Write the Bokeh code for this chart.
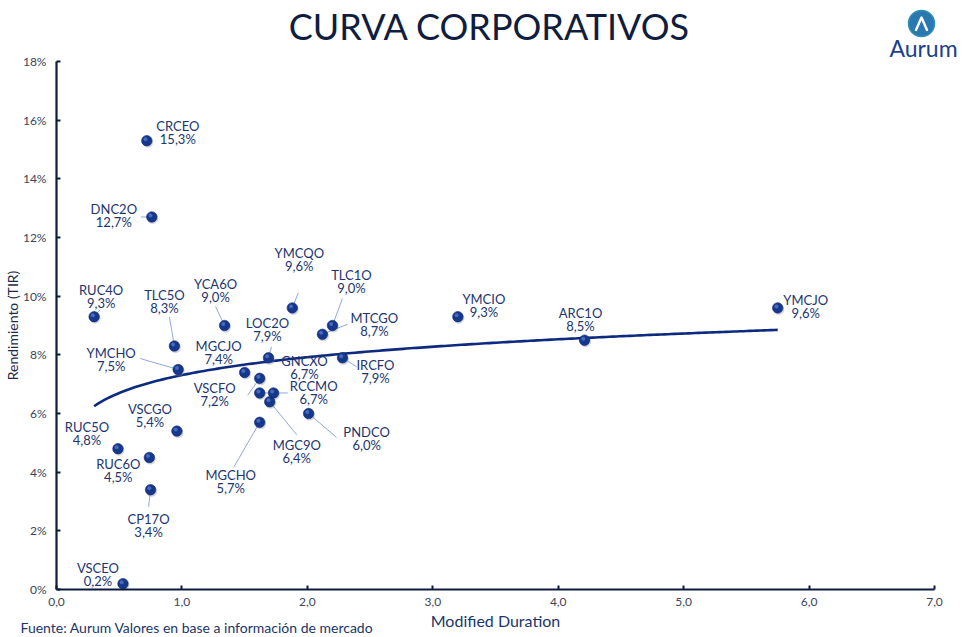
import numpy as np
from bokeh.plotting import figure
from bokeh.models import (ColumnDataSource, FixedTicker, PrintfTickFormatter,
                          CustomJSTickFormatter, Range1d)
from bokeh.transform import dodge
from bokeh.embed import file_html
from bokeh.resources import INLINE
from bokeh.core.properties import value

# --- data: corporate bonds, modified duration vs. yield (TIR, %) ---
tickers = ["CRCEO", "DNC2O", "RUC4O", "TLC5O", "YCA6O", "YMCHO", "YMCQO",
           "TLC1O", "MTCGO", "LOC2O", "MGCJO", "VSCFO", "GNCXO", "RCCMO",
           "MGC9O", "PNDCO", "MGCHO", "IRCFO", "YMCIO", "ARC1O", "YMCJO",
           "VSCGO", "RUC5O", "RUC6O", "CP17O", "VSCEO"]
duration = [0.72, 0.76, 0.30, 0.94, 1.34, 0.97, 1.88,
            2.20, 2.12, 1.69, 1.50, 1.62, 1.73, 1.62,
            1.70, 2.01, 1.62, 2.28, 3.20, 4.21, 5.75,
            0.96, 0.49, 0.74, 0.75, 0.53]
tir = [15.3, 12.7, 9.3, 8.3, 9.0, 7.5, 9.6,
       9.0, 8.7, 7.9, 7.4, 7.2, 6.7, 6.7,
       6.4, 6.0, 5.7, 7.9, 9.3, 8.5, 9.6,
       5.4, 4.8, 4.5, 3.4, 0.2]
x_ticks = [0, 1, 2, 3, 4, 5, 6, 7]
y_ticks = [0, 2, 4, 6, 8, 10, 12, 14, 16, 18]

title_text = "CURVA CORPORATIVOS"
x_title = "Modified Duration"
y_title = "Rendimiento (TIR)"
source_text = "Fuente: Aurum Valores en base a información de mercado"
brand = "Aurum"

# --- label placement (pixel offsets of the name line from each point) ---
label_dx = [31, -38, 7, -10, -9, -67, 7,
            19, 52, -1, -26, -45, 31, 54,
            27, 58, -29, 33, 26, -4, 28,
            -27, -31, -31, -2, -25]
label_dy = [-15, -8, -27, -51, -42, -17, -55,
            -51, -16, -35, -26, 10, -32, -7,
            43, 18, 53, 7, -18, -27, -8,
            -22, -22, 6, 29, -16]
# leader line start (pixels from the point); None = no leader
leaders = [None, (-11, 0), (6, -7), (-5, -29), (-9, -19), (-38, -11), (6, -15),
           (10, -27), (25, -10), (3, -11), None, (-12, 17), None, (28, 0),
           (27, 33), (28, 24), (-26, 45), (14, 9), None, None, None,
           None, None, None, (-2, 17), None]

W, H = 976, 637
PL, PR, PT, PB = 56, 42, 61, 48           # space around the plotting area
X_MAX, Y_MAX = 7, 18
PX_X = (W - PL - PR) / X_MAX
PX_Y = (H - PT - PB) / Y_MAX

NAVY = "#0c1c3c"
LABEL = "#213470"
FONT = "Lato"

# The frame fills the whole page; the axes are pinned at 0 so the
# surrounding margin (titles, logo, note) lives inside the same canvas.
p = figure(width=W, height=H, output_backend="svg", toolbar_location=None,
           x_range=Range1d(-PL / PX_X, X_MAX + PR / PX_X),
           y_range=Range1d(-PB / PX_Y, Y_MAX + PT / PX_Y),
           min_border=0, min_border_left=0, min_border_right=0,
           min_border_top=0, min_border_bottom=0)
p.extra_x_ranges = {"px": Range1d(0, W)}
p.extra_y_ranges = {"py": Range1d(H, 0)}
p.outline_line_color = None
p.xgrid.visible = False
p.ygrid.visible = False

for ax, ticks in ((p.xaxis[0], x_ticks), (p.yaxis[0], y_ticks)):
    ax.fixed_location = 0
    ax.bounds = (ticks[0], ticks[-1])
    ax.ticker = FixedTicker(ticks=ticks)
    ax.axis_line_color = NAVY
    ax.axis_line_width = 2.2
    ax.major_tick_line_color = NAVY
    ax.major_tick_line_width = 2
    ax.major_tick_in = 4
    ax.major_tick_out = 0
    ax.minor_tick_line_color = None
    ax.major_label_text_font = FONT
    ax.major_label_text_font_size = "12px"
    ax.major_label_text_color = "#3a4558"
p.xaxis.major_label_standoff = 8
p.yaxis.major_label_standoff = 10
p.yaxis.formatter = PrintfTickFormatter(format="%d%%")
p.xaxis.formatter = CustomJSTickFormatter(code="return tick.toFixed(1).replace('.', ',');")

# logarithmic trend line fitted to the bonds
lx = np.log(np.array(duration))
b, a = np.polyfit(lx, np.array(tir), 1)
xs = np.linspace(min(duration), max(duration), 200)
p.line(xs, a + b * np.log(xs), line_color="#0d2a7e", line_width=2.6)

# leader lines
x0, y0, x1, y1 = [], [], [], []
for xv, yv, ld in zip(duration, tir, leaders):
    if ld is None:
        continue
    x0.append(xv + ld[0] / PX_X)
    y0.append(yv - ld[1] / PX_Y)
    x1.append(xv)
    y1.append(yv)
p.segment(x0, y0, x1, y1, line_color="#8fa9e0", line_width=1)

src = ColumnDataSource(dict(
    x=duration, y=tir, name=tickers,
    val=[f"{v:.1f}%".replace(".", ",") for v in tir],
    dx=label_dx, dy=label_dy, dy2=[d + 13 for d in label_dy],
))

# points: soft shadow, body, highlight (pixel shifts expressed in data units)
p.scatter(dodge("x", 1 / PX_X), dodge("y", -1.5 / PX_Y), source=src, size=11,
          fill_color="#7f8796", fill_alpha=0.35, line_color=None)
p.scatter("x", "y", source=src, size=10.5, fill_color="#15378c", line_color="#0f2a6e",
          line_width=0.6)
p.scatter(dodge("x", -1.3 / PX_X), dodge("y", 1.5 / PX_Y), source=src, size=4,
          fill_color="#5f80cf", fill_alpha=0.7, line_color=None)

common = dict(text_align="center", text_baseline="middle", text_font=value(FONT),
              text_font_size="13px", text_color=LABEL)
p.text("x", "y", text="name", x_offset="dx", y_offset="dy", source=src, **common)
p.text("x", "y", text="val", x_offset="dx", y_offset="dy2", source=src, **common)

# --- page decoration, placed in page pixels ---
pg = dict(x_range_name="px", y_range_name="py")


def page_text(x, y, text, size, color, align="center", angle=0.0):
    p.text([x], [y], text=[text], text_align=align, text_baseline="middle",
           text_font=value(FONT), text_font_size=size, text_color=color,
           angle=angle, **pg)


page_text(489, 25, title_text, "36px", "#0f1e3e")
page_text(12, 325, y_title, "14px", "#1d2a48", angle=np.pi / 2)
page_text(495, 620, x_title, "16px", "#20366a")
page_text(20, 627, source_text, "14px", "#20366a", align="left")

# logo: round badge with a chevron, brand name below
p.scatter([921], [23], size=26, fill_color="#2a78b2", line_color="#2f8fb0",
          line_width=1.5, **pg)
p.line([915.5, 921, 926.5], [29.5, 17, 29.5], line_color="white", line_width=2.4,
       line_cap="round", line_join="round", **pg)
page_text(923, 47, brand, "23px", "#1d3f8c")

open("out.html", "w").write(file_html(p, INLINE))
